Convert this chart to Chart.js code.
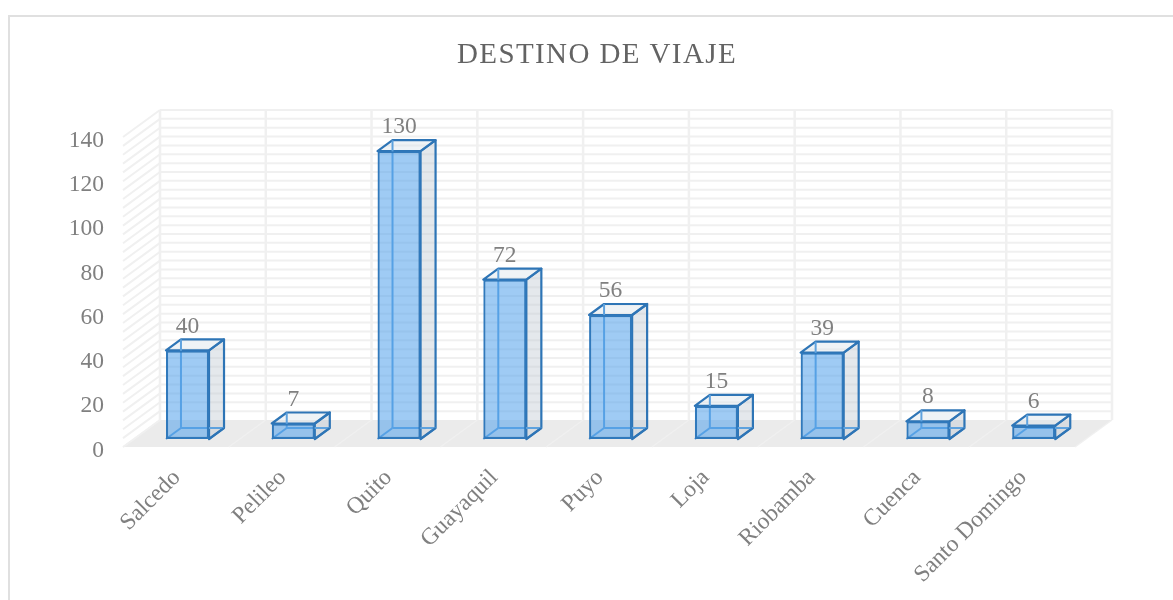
<!DOCTYPE html>
<html>
<head>
<meta charset="utf-8">
<title>Destino de viaje</title>
<script src="https://cdn.jsdelivr.net/npm/chart.js@4"></script>
<style>
    html, body { margin: 0; background: #fff; }
    canvas { display: block; }
</style>
</head>
<body>
<canvas id="destinoChart" width="1173" height="600"></canvas>
<script>
// Data
const categories = ['Salcedo', 'Pelileo', 'Quito', 'Guayaquil', 'Puyo', 'Loja', 'Riobamba', 'Cuenca', 'Santo Domingo'];
const trips = [40, 7, 130, 72, 56, 15, 39, 8, 6];
const yLabelled = [0, 20, 40, 60, 80, 100, 120, 140];

const serif = '"Liberation Serif", "Times New Roman", serif';
const textGrey = '#808080';
const gridGrey = '#f0f0f0';

// 3D look: how far the back wall and the bars sit behind the front plane
const wall = { dx: 37, dy: -27 };
const barShift = { dx: 11.6, dy: -8 };
const barDepth = { dx: 15, dy: -11 };

function poly(ctx, pts, fill, stroke, lw) {
    ctx.beginPath();
    pts.forEach((p, i) => i ? ctx.lineTo(p[0], p[1]) : ctx.moveTo(p[0], p[1]));
    ctx.closePath();
    if (fill) { ctx.fillStyle = fill; ctx.fill(); }
    if (stroke) { ctx.strokeStyle = stroke; ctx.lineWidth = lw; ctx.lineJoin = 'round'; ctx.stroke(); }
}

function line(ctx, x1, y1, x2, y2, color, lw) {
    ctx.beginPath();
    ctx.moveTo(x1, y1);
    ctx.lineTo(x2, y2);
    ctx.strokeStyle = color;
    ctx.lineWidth = lw;
    ctx.stroke();
}

const box3d = {
    id: 'box3d',
    afterLayout(chart) {
        // title is centred on the picture frame, not on the plot box
        chart.titleBlock.left = 21;
        chart.titleBlock.right = 1173;
    },
    beforeDraw(chart) {
        const ctx = chart.ctx;
        ctx.save();
        // frame runs off the right and bottom of the picture
        ctx.strokeStyle = '#e0e0e0';
        ctx.lineWidth = 2;
        ctx.strokeRect(9, 16, 1200, 640);
        ctx.restore();
        ctx.letterSpacing = '1.4px'; // only the title is drawn with this
    },
    beforeDatasetsDraw(chart) {
        const ctx = chart.ctx;
        ctx.letterSpacing = '0px';
        const { left, right, bottom } = chart.chartArea;
        const x = chart.scales.x;
        const y = chart.scales.y;
        const bx = wall.dx, by = wall.dy;
        ctx.save();
        // floor
        poly(ctx, [[left, bottom], [right, bottom], [right + bx, bottom + by], [left + bx, bottom + by]], '#ebebeb');
        // horizontal grid on back wall and side wall
        y.ticks.forEach(t => {
            const py = y.getPixelForValue(t.value);
            line(ctx, left, py, left + bx, py + by, gridGrey, 2);
            if (t.value > 0) line(ctx, left + bx, py + by, right + bx, py + by, gridGrey, 2);
        });
        // category separators on floor and back wall
        const step = (right - left) / categories.length;
        for (let i = 0; i <= categories.length; i++) {
            const sx = x.getPixelForValue(i) - step / 2;
            line(ctx, sx, bottom, sx + bx, bottom + by, gridGrey, 1.5);
            line(ctx, sx + bx, bottom + by, sx + bx, y.top + by, gridGrey, 2.5);
        }
        ctx.restore();
    },
    beforeDatasetDraw(chart, args) {
        const ctx = chart.ctx;
        const d = barDepth;
        ctx.save();
        ctx.translate(barShift.dx, barShift.dy);
        // back faces first, the library's bar goes on top as the front face
        args.meta.data.forEach(bar => {
            const l = bar.x - bar.width / 2, r = bar.x + bar.width / 2;
            const t = bar.y, b = bar.base;
            poly(ctx, [[r, t], [r + d.dx, t + d.dy], [r + d.dx, b + d.dy], [r, b]], 'rgba(190,200,210,0.42)', '#2e75b6', 2.2);
            poly(ctx, [[l, t], [r, t], [r + d.dx, t + d.dy], [l + d.dx, t + d.dy]], 'rgba(215,225,232,0.4)', '#2e75b6', 2.2);
            line(ctx, l + d.dx, t + d.dy, l + d.dx, b + d.dy, '#5ea2de', 2);
            line(ctx, l, b, l + d.dx, b + d.dy, '#5ea2de', 2);
            line(ctx, l + d.dx, b + d.dy, r + d.dx, b + d.dy, '#5ea2de', 2);
            line(ctx, r, b, r + d.dx, b + d.dy, '#2e75b6', 2);
        });
    },
    afterDatasetDraw(chart) {
        chart.ctx.restore();
    },
    afterDatasetsDraw(chart) {
        const ctx = chart.ctx;
        ctx.save();
        ctx.font = '23.5px ' + serif;
        ctx.fillStyle = textGrey;
        ctx.textAlign = 'center';
        ctx.textBaseline = 'middle';
        chart.getDatasetMeta(0).data.forEach((bar, i) => {
            ctx.fillText(trips[i], bar.x + barShift.dx, bar.y + barShift.dy - 24);
        });
        ctx.restore();
    }
};

new Chart(document.getElementById('destinoChart'), {
    type: 'bar',
    data: {
        labels: categories,
        datasets: [{
            label: 'Destino de viaje',
            data: trips,
            backgroundColor: 'rgba(80,160,235,0.55)',
            borderColor: '#3079bc',
            borderWidth: 2.2,
            borderSkipped: false,
            categoryPercentage: 1,
            barPercentage: 0.407
        }]
    },
    plugins: [box3d],
    options: {
        responsive: false,
        animation: false,
        layout: { padding: { left: 0, right: 98, top: 0, bottom: 0 } },
        plugins: {
            legend: { display: false },
            tooltip: { enabled: false },
            title: {
                display: true,
                text: 'DESTINO DE VIAJE',
                color: '#636363',
                font: { family: serif, size: 29, weight: 'normal', lineHeight: 1.2 },
                padding: { top: 38, bottom: 64.2 }
            }
        },
        scales: {
            x: {
                afterFit(scale) { scale.height = 153; },
                grid: { display: false },
                border: { display: false },
                ticks: {
                    z: 1,
                    autoSkip: false,
                    minRotation: 45,
                    maxRotation: 45,
                    labelOffset: 1,
                    padding: 9,
                    color: textGrey,
                    font: { family: serif, size: 23.5 }
                }
            },
            y: {
                min: 0,
                max: 140,
                afterFit(scale) { scale.width = 123; },
                grid: { display: false },
                border: { display: false },
                ticks: {
                    z: 1,
                    stepSize: 4,
                    autoSkip: false,
                    padding: 11,
                    labelOffset: 3.5,
                    color: textGrey,
                    font: { family: serif, size: 23.5 },
                    callback: v => yLabelled.includes(v) ? v : ''
                }
            }
        }
    }
});
</script>
</body>
</html>
